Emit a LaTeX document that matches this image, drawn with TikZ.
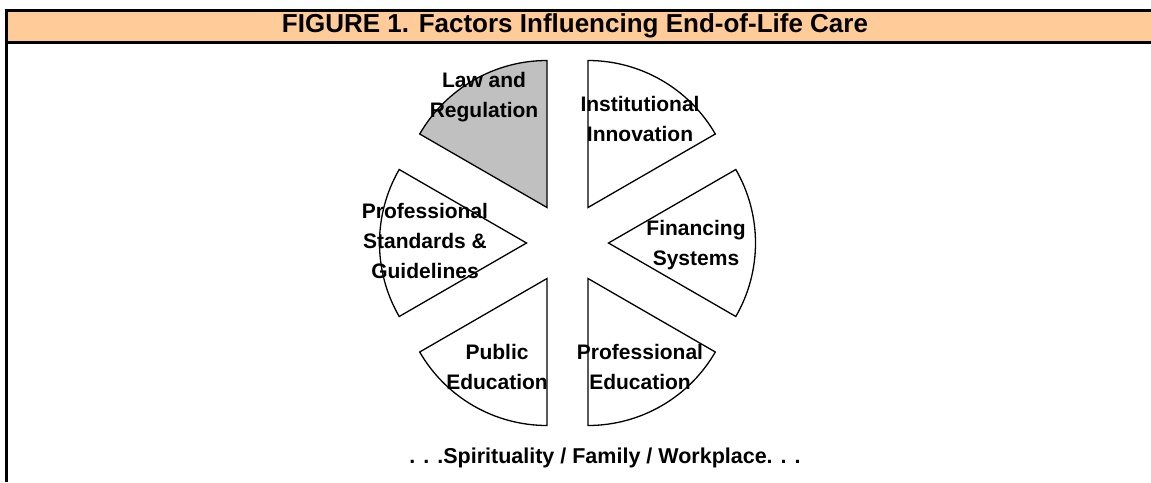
\documentclass[tikz,border=0pt]{standalone}
\usepackage{fontspec}
\setmainfont{Liberation Sans}
\newlength{\du}
\setlength{\du}{1pt}
\tikzset{
  sector/.style={line width=1.3\du, line join=miter},
  label/.style={font=\fontsize{21}{30}\selectfont\bfseries, align=center, inner sep=0pt},
}
\begin{document}
\begin{tikzpicture}
\pgftransformxscale{1.000000}
\pgftransformyscale{-1.000000}
\useasboundingbox (0\du,0\du) rectangle (1151\du,482\du);
% title band
\definecolor{dialinecolor}{rgb}{1.000000, 0.800000, 0.600000}
\pgfsetfillcolor{dialinecolor}
\fill (5\du,10\du)--(5\du,42\du)--(1151\du,42\du)--(1151\du,10\du)--cycle;
\pgfsetlinewidth{3\du}
\definecolor{dialinecolor}{rgb}{0.000000, 0.000000, 0.000000}
\pgfsetstrokecolor{dialinecolor}
\draw (4.5\du,10\du)--(1151\du,10\du);
\draw (4.5\du,42\du)--(1151\du,42\du);
\draw (6\du,10\du)--(6\du,482\du);
% setfont left to latex
\node[font=\fontsize{26}{28}\selectfont\bfseries, inner sep=0pt] (title) at (575\du,26\du){FIGURE 1. Factors Influencing End-of-Life Care};
% sector tips
\coordinate (law) at (547.0\du,207.5\du);
\coordinate (inst) at (588.0\du,207.5\du);
\coordinate (fin) at (608.5\du,243.0\du);
\coordinate (pedu) at (588.0\du,278.5\du);
\coordinate (pub) at (547.0\du,278.5\du);
\coordinate (std) at (526.5\du,243.0\du);
% sectors
\definecolor{dialinecolor}{rgb}{0.752941, 0.752941, 0.752941}
\filldraw[sector, fill=dialinecolor] (law)--++(-90:147\du) arc[start angle=-90, end angle=-150, radius=147\du]--cycle;
\draw[sector] (inst)--++(-30:147\du) arc[start angle=-30, end angle=-90, radius=147\du]--cycle;
\draw[sector] (fin)--++(30:147\du) arc[start angle=30, end angle=-30, radius=147\du]--cycle;
\draw[sector] (pedu)--++(90:147\du) arc[start angle=90, end angle=30, radius=147\du]--cycle;
\draw[sector] (pub)--++(150:147\du) arc[start angle=150, end angle=90, radius=147\du]--cycle;
\draw[sector] (std)--++(210:147\du) arc[start angle=210, end angle=150, radius=147\du]--cycle;
% setfont left to latex
\node[label] (lawtext) at (484\du,97\du){Law and\\Regulation};
\node[label] (insttext) at (640\du,118.5\du){Institutional\\Innovation};
\node[label] (fintext) at (696\du,245\du){Financing\\Systems};
\node[label] (stdtext) at (425\du,241\du){Professional\\Standards \&\\Guidelines};
\node[label] (pubtext) at (497\du,367\du){Public\\Education};
\node[label] (pedutext) at (640\du,367\du){Professional\\Education};
\node[label, font=\fontsize{21.5}{24}\selectfont\bfseries] (context) at (605\du,458\du){. . .Spirituality / Family / Workplace. . .};
\end{tikzpicture}
\end{document}
